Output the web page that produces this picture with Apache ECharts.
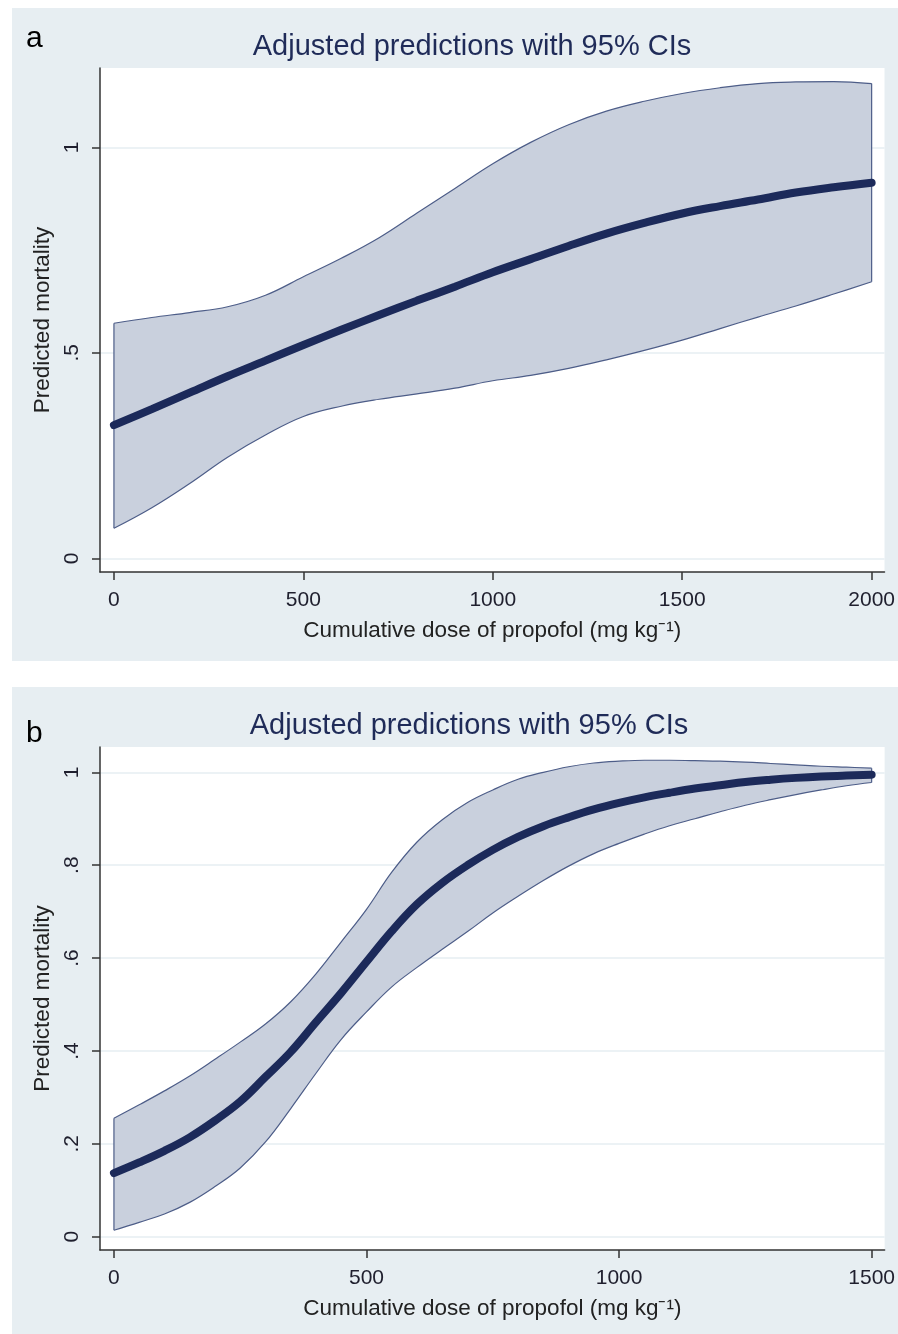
<!DOCTYPE html>
<html>
<head>
<meta charset="utf-8">
<script src="https://cdn.jsdelivr.net/npm/echarts@6/dist/echarts.min.js"></script>
<style>
  html, body { margin: 0; padding: 0; background: #ffffff; }
  #wrap { position: relative; width: 898px; height: 1334px; }
  .panel { position: absolute; left: 12px; width: 886px; background: #e7eef2; }
  #chart { position: absolute; left: 0; top: 0; width: 898px; height: 1334px; }
</style>
</head>
<body>
<div id="wrap">
  <div class="panel" style="top:8px;height:653px;"></div>
  <div class="panel" style="top:687px;height:647px;"></div>
  <div id="chart"></div>
</div>
<script>
// ---------- Data ----------
// Panel a: cumulative dose 0..2000
const doseA  = [0, 100, 200, 300, 400, 500, 600, 700, 800, 900, 1000, 1100, 1200, 1300, 1400, 1500, 1600, 1700, 1800, 1900, 2000];
const meanA  = [0.324, 0.363, 0.403, 0.443, 0.481, 0.519, 0.556, 0.592, 0.627, 0.661, 0.696, 0.728, 0.760, 0.790, 0.816, 0.839, 0.857, 0.873, 0.890, 0.903, 0.914];
const lowerA = [0.073, 0.123, 0.182, 0.246, 0.300, 0.345, 0.370, 0.387, 0.400, 0.414, 0.432, 0.445, 0.462, 0.483, 0.506, 0.531, 0.559, 0.587, 0.614, 0.643, 0.673];
const upperA = [0.572, 0.586, 0.598, 0.612, 0.640, 0.685, 0.730, 0.780, 0.840, 0.900, 0.960, 1.012, 1.055, 1.088, 1.112, 1.131, 1.145, 1.155, 1.159, 1.160, 1.155];

// Panel b: cumulative dose 0..1500
const doseB  = [0, 50, 100, 150, 200, 250, 300, 350, 400, 450, 500, 550, 600, 650, 700, 750, 800, 850, 900, 950, 1000, 1050, 1100, 1150, 1200, 1250, 1300, 1350, 1400, 1450, 1500];
const meanB  = [0.137, 0.160, 0.185, 0.214, 0.250, 0.291, 0.344, 0.398, 0.462, 0.525, 0.592, 0.658, 0.716, 0.762, 0.800, 0.833, 0.861, 0.884, 0.903, 0.920, 0.934, 0.946, 0.956, 0.965, 0.972, 0.979, 0.984, 0.988, 0.991, 0.993, 0.995];
const lowerB = [0.014, 0.031, 0.049, 0.074, 0.108, 0.148, 0.204, 0.276, 0.352, 0.425, 0.484, 0.538, 0.580, 0.619, 0.657, 0.697, 0.733, 0.767, 0.798, 0.825, 0.847, 0.867, 0.885, 0.900, 0.915, 0.929, 0.941, 0.952, 0.962, 0.971, 0.978];
const upperB = [0.255, 0.284, 0.314, 0.346, 0.382, 0.419, 0.458, 0.506, 0.566, 0.635, 0.705, 0.785, 0.850, 0.898, 0.935, 0.962, 0.985, 1.000, 1.012, 1.020, 1.024, 1.026, 1.026, 1.025, 1.024, 1.022, 1.019, 1.016, 1.013, 1.011, 1.009];

// Tick labels
const xTicksA = [0, 500, 1000, 1500, 2000];
const yTicksA = [0, 0.5, 1];
const xTicksB = [0, 500, 1000, 1500];
const yTicksB = [0, 0.2, 0.4, 0.6, 0.8, 1];

const titleText = 'Adjusted predictions with 95% CIs';
const xName = 'Cumulative dose of propofol (mg kg\u207B\u00B9)';
const yName = 'Predicted mortality';
const panelLetters = ['a', 'b'];

// ---------- Styles ----------
const FONT = '"Liberation Sans", Arial, Helvetica, sans-serif';
const C_MEAN = '#1c2a5a';
const C_FILL = '#c9d0dd';
const C_EDGE = '#4d5d88';
const C_AXIS = '#333333';
const C_GRIDLINE = '#e6eef2';
const C_LABEL = '#1f1f2e';
const C_TITLE = '#1f2b58';

// rows are [value, dose]; encode maps column 1 -> x, column 0 -> y (so stacking applies to y)
function rows(dose, vals) { return dose.map((d, i) => [vals[i], d]); }
function diff(a, b) { return a.map((v, i) => +(v - b[i]).toFixed(4)); }
function fmtY(v) {
  if (v === 0) return '0';
  if (v === 1) return '1';
  return String(v).replace(/^0\./, '.');
}

function xAxisCfg(idx, ticks, min, max) {
  return {
    type: 'value', gridIndex: idx, min: min, max: max,
    axisLine: { show: true, onZero: false, lineStyle: { color: C_AXIS, width: 1.5 } },
    axisTick: { show: true, customValues: ticks, length: 8, lineStyle: { color: C_AXIS, width: 1.5 } },
    axisLabel: { customValues: ticks, fontSize: 21, color: C_LABEL, fontFamily: FONT, margin: 18,
                 formatter: v => String(v) },
    splitLine: { show: false },
    name: xName, nameLocation: 'middle', nameGap: 47,
    nameTextStyle: { fontSize: 22.5, color: '#222222', fontFamily: FONT }
  };
}
function yAxisCfg(idx, ticks, min, max) {
  return {
    type: 'value', gridIndex: idx, min: min, max: max,
    axisLine: { show: true, onZero: false, lineStyle: { color: C_AXIS, width: 1.5 } },
    axisTick: { show: true, customValues: ticks, length: 8, lineStyle: { color: C_AXIS, width: 1.5 } },
    axisLabel: { customValues: ticks, rotate: 90, fontSize: 21, color: C_LABEL, fontFamily: FONT, margin: 17, formatter: fmtY },
    splitLine: { show: true, lineStyle: { color: C_GRIDLINE, width: 1.5 } },
    name: yName, nameLocation: 'middle', nameGap: 36,
    nameTextStyle: { fontSize: 22.5, color: '#222222', fontFamily: FONT }
  };
}

function edgeSeries(idx, dose, lower, upper) {
  const n = dose.length - 1;
  return {
    type: 'custom', xAxisIndex: idx, yAxisIndex: idx, z: 4, silent: true,
    data: [[dose[0], lower[0], upper[0]], [dose[n], lower[n], upper[n]]],
    encode: { x: 0, y: [1, 2] },
    renderItem: function (params, api) {
      const p1 = api.coord([api.value(0), api.value(1)]);
      const p2 = api.coord([api.value(0), api.value(2)]);
      return { type: 'line', shape: { x1: p1[0], y1: p1[1], x2: p2[0], y2: p2[1] },
               style: { stroke: C_EDGE, lineWidth: 1.2 } };
    }
  };
}

function panelSeries(idx, dose, mean, lower, upper) {
  const common = { type: 'line', xAxisIndex: idx, yAxisIndex: idx, symbol: 'none', smooth: 0.4,
                   silent: true, encode: { x: 1, y: 0 } };
  return [
    Object.assign({}, common, { stack: 'ci' + idx, data: rows(dose, lower), z: 3,
      lineStyle: { color: C_EDGE, width: 1.2 } }),
    Object.assign({}, common, { stack: 'ci' + idx, data: rows(dose, diff(upper, lower)), z: 3,
      lineStyle: { color: C_EDGE, width: 1.2 }, areaStyle: { color: C_FILL, opacity: 1 } }),
    edgeSeries(idx, dose, lower, upper),
    Object.assign({}, common, { data: rows(dose, mean), z: 5,
      lineStyle: { color: C_MEAN, width: 8, cap: 'round' } })
  ];
}

const chart = echarts.init(document.getElementById('chart'), null, { renderer: 'canvas' });
chart.setOption({
  backgroundColor: 'transparent',
  animation: false,
  title: [
    { text: titleText, left: 467, top: 27, textAlign: 'center',
      textStyle: { fontSize: 29, fontWeight: 'normal', color: C_TITLE, fontFamily: FONT } },
    { text: titleText, left: 464, top: 706, textAlign: 'center',
      textStyle: { fontSize: 29, fontWeight: 'normal', color: C_TITLE, fontFamily: FONT } },
    { text: panelLetters[0], left: 21, top: 19,
      textStyle: { fontSize: 30, fontWeight: 'normal', color: '#000', fontFamily: FONT } },
    { text: panelLetters[1], left: 21, top: 714,
      textStyle: { fontSize: 30, fontWeight: 'normal', color: '#000', fontFamily: FONT } }
  ],
  grid: [
    { left: 100, top: 68, width: 788, height: 504, show: true, backgroundColor: '#ffffff', borderWidth: 0 },
    { left: 100, top: 747, width: 788, height: 503, show: true, backgroundColor: '#ffffff', borderWidth: 0 }
  ],
  xAxis: [
    xAxisCfg(0, xTicksA, -36.8, 2034),
    xAxisCfg(1, xTicksB, -27.6, 1525.7)
  ],
  yAxis: [
    yAxisCfg(0, yTicksA, -0.0333, 1.193),
    yAxisCfg(1, yTicksB, -0.0286, 1.0545)
  ],
  series: [].concat(
    panelSeries(0, doseA, meanA, lowerA, upperA),
    panelSeries(1, doseB, meanB, lowerB, upperB)
  )
});
</script>
</body>
</html>
